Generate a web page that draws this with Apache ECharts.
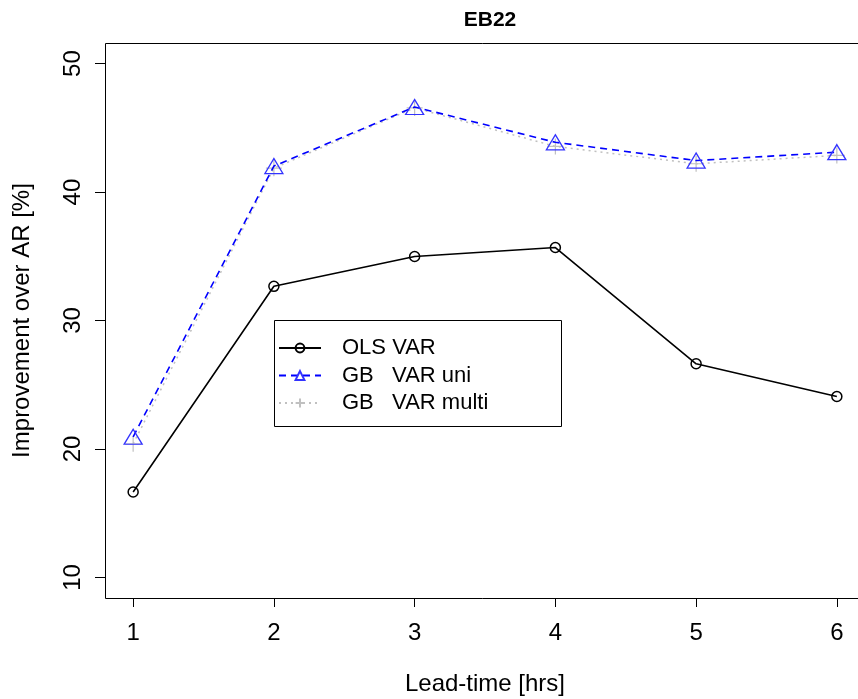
<!DOCTYPE html>
<html>
<head>
<meta charset="utf-8">
<script src="https://cdn.jsdelivr.net/npm/echarts@6/dist/echarts.min.js"></script>
<style>
html,body{margin:0;padding:0;background:#fff;}
#c{width:858px;height:699px;}
</style>
</head>
<body>
<div id="c"></div>
<script>
const leadTimes = [1, 2, 3, 4, 5, 6];
const olsVar = [16.65, 32.66, 34.98, 35.68, 26.63, 24.08];
const gbVarUni = [20.95, 42.02, 46.62, 43.87, 42.45, 43.1];
const gbVarMulti = [20.4, 41.86, 46.55, 43.55, 42.2, 42.85];
const xTicks = [1, 2, 3, 4, 5, 6];
const yTicks = [10, 20, 30, 40, 50];
const seriesNames = ['OLS VAR', 'GB   VAR uni', 'GB   VAR multi'];

const pair = (xs, ys) => xs.map((x, i) => [x, ys[i]]);
const FONT = 'Liberation Sans, Arial, sans-serif';
const plusPath = 'path://M0,-10 L0,10 M-10,0 L10,0';

const chart = echarts.init(document.getElementById('c'), null, {renderer: 'canvas'});
chart.setOption({
  animation: false,
  backgroundColor: '#fff',
  title: {
    text: 'EB22', left: 485, top: 5, textAlign: 'center',
    textStyle: {fontFamily: FONT, fontWeight: 'bold', fontSize: 21, color: '#000'}
  },
  grid: {left: 105, top: 43, right: -7, bottom: 101, show: false,
         outerBoundsMode: 'none', containLabel: false},
  xAxis: {
    type: 'value', min: 0.8, max: 6.2,
    name: 'Lead-time [hrs]', nameLocation: 'middle', nameGap: 74,
    nameTextStyle: {fontFamily: FONT, fontSize: 24, color: '#000'},
    axisLine: {show: false},
    splitLine: {show: false},
    axisTick: {show: true, inside: false, length: 9, customValues: xTicks, lineStyle: {color: '#000'}},
    axisLabel: {customValues: xTicks, fontFamily: FONT, fontSize: 24, color: '#000', margin: 23}
  },
  yAxis: {
    type: 'value', min: 8.4, max: 51.6,
    name: 'Improvement over AR [%]', nameLocation: 'middle', nameGap: 71, nameRotate: 90,
    nameTextStyle: {fontFamily: FONT, fontSize: 24, color: '#000'},
    axisLine: {show: false},
    splitLine: {show: false},
    axisTick: {show: true, inside: false, length: 10, customValues: yTicks, lineStyle: {color: '#000'}},
    axisLabel: {customValues: yTicks, rotate: 90, fontFamily: FONT, fontSize: 24, color: '#000', margin: 20}
  },
  legend: {
    orient: 'vertical', left: 274, top: 320,
    padding: [16, 10, 15, 4],
    itemWidth: 42, itemHeight: 11, itemGap: 3.5,
    data: seriesNames,
    textStyle: {fontFamily: FONT, fontSize: 22, color: '#000', lineHeight: 24, padding: [0, 0, 0, 16]}
  },
  graphic: [
    {
      type: 'rect', shape: {x: 274.5, y: 320.5, width: 287, height: 106},
      style: {fill: 'none', stroke: '#000', lineWidth: 1}, z: 100, silent: true
    },
    {
      type: 'rect', shape: {x: 105.5, y: 43.5, width: 770, height: 555},
      style: {fill: 'none', stroke: '#000', lineWidth: 1}, z: 100, silent: true
    }
  ],
  series: [
    {
      name: seriesNames[2], type: 'line', data: pair(leadTimes, gbVarMulti),
      symbol: plusPath, symbolSize: 16,
      lineStyle: {color: '#c0c0c0', width: 1.5, type: [2, 4]},
      itemStyle: {color: 'rgba(0,0,0,0)', borderColor: '#c0c0c0', borderWidth: 1.2},
      z: 2
    },
    {
      name: seriesNames[1], type: 'line', data: pair(leadTimes, gbVarUni),
      symbol: 'triangle', symbolSize: [18, 15],
      lineStyle: {color: '#0000ff', width: 1.6, type: [7, 5]},
      itemStyle: {color: 'rgba(0,0,0,0)', borderColor: '#3333ff', borderWidth: 1.3},
      z: 3
    },
    {
      name: seriesNames[0], type: 'line', data: pair(leadTimes, olsVar),
      symbol: 'circle', symbolSize: 10,
      lineStyle: {color: '#000', width: 1.6},
      itemStyle: {color: 'rgba(0,0,0,0)', borderColor: '#000', borderWidth: 1.5},
      z: 4
    }
  ]
});
</script>
</body>
</html>
